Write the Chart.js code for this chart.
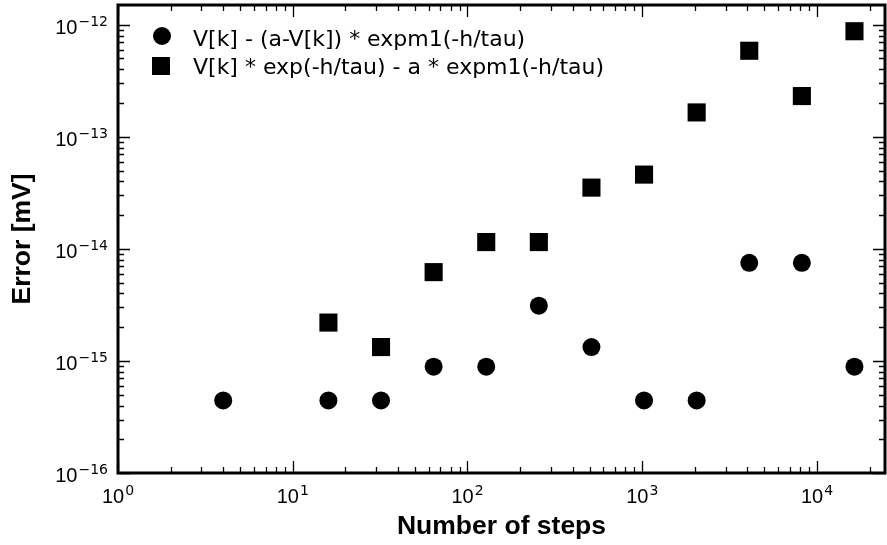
<!DOCTYPE html>
<html>
<head>
<meta charset="utf-8">
<script src="https://cdn.jsdelivr.net/npm/chart.js@4.4.1/dist/chart.umd.min.js"></script>
<style>
  body { margin: 0; background: #fff; }
  canvas { display: block; }
</style>
</head>
<body>
<canvas id="myChart" width="887" height="545"></canvas>
<script>
// number of steps (powers of two)
const circleSteps = [4, 16, 32, 64, 128, 256, 512, 1024, 2048, 4096, 8192, 16384];
const circleErrors = [4.44e-16, 4.44e-16, 4.44e-16, 8.88e-16, 8.88e-16, 3.11e-15,
  1.33e-15, 4.44e-16, 4.44e-16, 7.5e-15, 7.5e-15, 8.88e-16];

const squareSteps = [16, 32, 64, 128, 256, 512, 1024, 2048, 4096, 8192, 16384];
const squareErrors = [2.2e-15, 1.33e-15, 6.2e-15, 1.15e-14, 1.15e-14, 3.52e-14,
  4.6e-14, 1.65e-13, 5.86e-13, 2.31e-13, 8.75e-13];

const seriesLabels = [
  "V[k] - (a-V[k]) * expm1(-h/tau)",
  "V[k] * exp(-h/tau) - a * expm1(-h/tau)"
];

const xTickExps = [0, 1, 2, 3, 4];
const yTickExps = [-16, -15, -14, -13, -12];

const xTitle = "Number of steps";
const yTitle = "Error [mV]";

const SANS = "'Liberation Sans', Arial, sans-serif";
const WIDE = "'DejaVu Sans', sans-serif";

function toPoints(xs, ys) {
  return xs.map((x, i) => ({ x: x, y: ys[i] }));
}

// "10" with a raised exponent
function drawPow(ctx, exp, x, y, align) {
  const base = "10";
  const sup = exp < 0 ? "\u2212" + Math.abs(exp) : String(exp);
  ctx.font = "20px " + SANS;
  const wb = ctx.measureText(base).width;
  ctx.font = "14px " + WIDE;
  const ws = ctx.measureText(sup).width;
  let x0 = x;
  if (align === "center") x0 = x - (wb + ws + 1) / 2;
  if (align === "right") x0 = x - (wb + ws + 1);
  ctx.textAlign = "left";
  ctx.textBaseline = "alphabetic";
  ctx.font = "20px " + SANS;
  ctx.fillText(base, x0, y);
  ctx.font = "14px " + WIDE;
  ctx.fillText(sup, x0 + wb + 1, y - 8);
}

const framePlugin = {
  id: "frame",
  afterDraw(chart) {
    const ctx = chart.ctx;
    const a = chart.chartArea;
    const xs = chart.scales.x;
    const ys = chart.scales.y;
    ctx.save();
    ctx.strokeStyle = "#000";
    ctx.fillStyle = "#000";

    // ticks on all four sides, pointing inward
    ctx.lineWidth = 1.3;
    ctx.beginPath();
    for (let e = 0; e <= 4; e++) {
      for (let m = 1; m <= 9; m++) {
        const v = m * Math.pow(10, e);
        if (v < xs.min || v > xs.max) continue;
        const px = Math.round(xs.getPixelForValue(v)) + 0.5;
        const len = m === 1 ? 12 : 6;
        ctx.moveTo(px, a.bottom); ctx.lineTo(px, a.bottom - len);
        ctx.moveTo(px, a.top); ctx.lineTo(px, a.top + len);
      }
    }
    for (let e = -16; e <= -12; e++) {
      for (let m = 1; m <= 9; m++) {
        const v = m * Math.pow(10, e);
        if (v < ys.min || v > ys.max) continue;
        const py = Math.round(ys.getPixelForValue(v)) + 0.5;
        const len = m === 1 ? 12 : 6;
        ctx.moveTo(a.left, py); ctx.lineTo(a.left + len, py);
        ctx.moveTo(a.right, py); ctx.lineTo(a.right - len, py);
      }
    }
    ctx.stroke();

    ctx.lineWidth = 3;
    ctx.strokeRect(a.left, a.top, a.right - a.left, a.bottom - a.top);

    // tick labels
    xTickExps.forEach(e => {
      drawPow(ctx, e, xs.getPixelForValue(Math.pow(10, e)), a.bottom + 30, "center");
    });
    yTickExps.forEach(e => {
      drawPow(ctx, e, a.left - 10, ys.getPixelForValue(Math.pow(10, e)) + 9, "right");
    });

    // axis titles
    ctx.font = "bold 26.5px " + SANS;
    ctx.textAlign = "center";
    ctx.textBaseline = "middle";
    ctx.fillText(xTitle, (a.left + a.right) / 2, 527);
    ctx.save();
    ctx.translate(23, (a.top + a.bottom) / 2);
    ctx.rotate(-Math.PI / 2);
    ctx.fillText(yTitle, 0, 0);
    ctx.restore();

    // legend
    ctx.font = "22px " + WIDE;
    ctx.textAlign = "left";
    ctx.textBaseline = "alphabetic";
    ctx.beginPath();
    ctx.arc(162, 36, 9, 0, Math.PI * 2);
    ctx.fill();
    ctx.fillRect(152, 57, 18, 18);
    ctx.fillText(chart.data.datasets[0].label, 193, 46);
    ctx.fillText(chart.data.datasets[1].label, 193, 73.5);
    ctx.restore();
  }
};

const ctx = document.getElementById("myChart").getContext("2d");
const chart = new Chart(ctx, {
  type: "scatter",
  data: {
    datasets: [
      {
        label: seriesLabels[0],
        data: toPoints(circleSteps, circleErrors),
        pointStyle: "circle",
        pointRadius: 9,
        backgroundColor: "#000",
        borderColor: "#000",
        borderWidth: 0
      },
      {
        label: seriesLabels[1],
        data: toPoints(squareSteps, squareErrors),
        pointStyle: "rect",
        pointRadius: 12.8,
        backgroundColor: "#000",
        borderColor: "#000",
        borderWidth: 0
      }
    ]
  },
  options: {
    responsive: false,
    animation: false,
    layout: { autoPadding: false, padding: { left: 118, right: 2, top: 5, bottom: 72 } },
    scales: {
      x: { type: "logarithmic", min: 1, max: 24500, display: false },
      y: { type: "logarithmic", min: 1e-16, max: 1.5e-12, display: false }
    },
    plugins: {
      legend: { display: false },
      tooltip: { enabled: false }
    }
  },
  plugins: [framePlugin]
});
</script>
</body>
</html>
